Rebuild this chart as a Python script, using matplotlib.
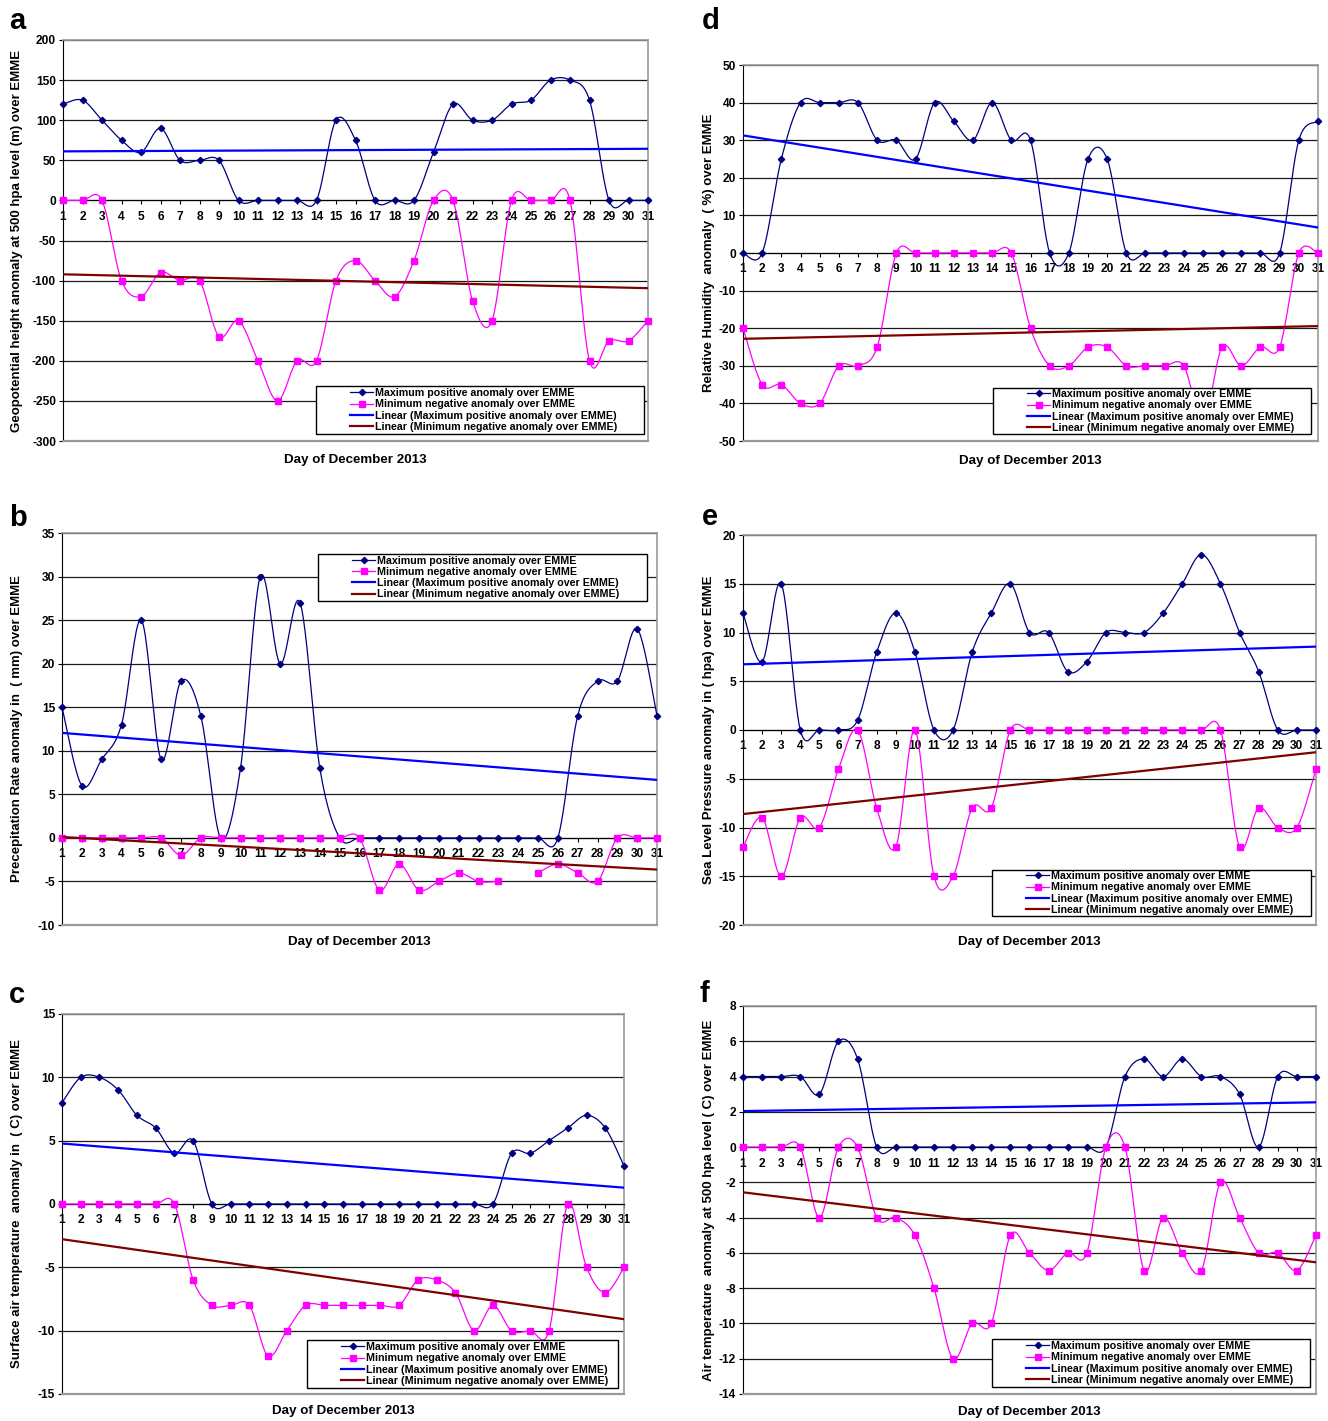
import numpy as np
import matplotlib.pyplot as plt
from matplotlib.lines import Line2D
from matplotlib.patches import Rectangle

plt.rcParams['font.family'] = ['Liberation Sans', 'DejaVu Sans']
plt.rcParams['font.weight'] = 'bold'
plt.rcParams['axes.unicode_minus'] = False

days = np.arange(1, 32)

# a - geopotential height 500 hpa (m)
geo_max = [120, 125, 100, 75, 60, 90, 50, 50, 50, 0, 0, 0, 0, 0, 100, 75,
           0, 0, 0, 60, 120, 100, 100, 120, 125, 150, 150, 125, 0, 0, 0]
geo_min = [0, 0, 0, -100, -120, -90, -100, -100, -170, -150, -200, -250, -200, -200,
           -100, -75, -100, -120, -75, 0, 0, -125, -150, 0, 0, 0, 0, -200, -175, -175, -150]

# d - relative humidity (%)
rh_max = [0, 0, 25, 40, 40, 40, 40, 30, 30, 25, 40, 35, 30, 40, 30, 30,
          0, 0, 25, 25, 0, 0, 0, 0, 0, 0, 0, 0, 0, 30, 35]
rh_min = [-20, -35, -35, -40, -40, -30, -30, -25, 0, 0, 0, 0, 0, 0, 0, -20,
          -30, -30, -25, -25, -30, -30, -30, -30, -45, -25, -30, -25, -25, 0, 0]

# b - precipitation rate (mm), day 24 missing in the minimum series
pr_max = [15, 6, 9, 13, 25, 9, 18, 14, 0, 8, 30, 20, 27, 8, 0, 0,
          0, 0, 0, 0, 0, 0, 0, 0, 0, 0, 14, 18, 18, 24, 14]
pr_min = [0, 0, 0, 0, 0, 0, -2, 0, 0, 0, 0, 0, 0, 0, 0, 0,
          -6, -3, -6, -5, -4, -5, -5, np.nan, -4, -3, -4, -5, 0, 0, 0]

# e - sea level pressure (hpa)
slp_max = [12, 7, 15, 0, 0, 0, 1, 8, 12, 8, 0, 0, 8, 12, 15, 10,
           10, 6, 7, 10, 10, 10, 12, 15, 18, 15, 10, 6, 0, 0, 0]
slp_min = [-12, -9, -15, -9, -10, -4, 0, -8, -12, 0, -15, -15, -8, -8, 0, 0,
           0, 0, 0, 0, 0, 0, 0, 0, 0, 0, -12, -8, -10, -10, -4]

# c - surface air temperature (C)
sat_max = [8, 10, 10, 9, 7, 6, 4, 5, 0, 0, 0, 0, 0, 0, 0, 0,
           0, 0, 0, 0, 0, 0, 0, 0, 4, 4, 5, 6, 7, 6, 3]
sat_min = [0, 0, 0, 0, 0, 0, 0, -6, -8, -8, -8, -12, -10, -8, -8, -8,
           -8, -8, -8, -6, -6, -7, -10, -8, -10, -10, -10, 0, -5, -7, -5]

# f - air temperature 500 hpa (C)
at_max = [4, 4, 4, 4, 3, 6, 5, 0, 0, 0, 0, 0, 0, 0, 0, 0,
          0, 0, 0, 0, 4, 5, 4, 5, 4, 4, 3, 0, 4, 4, 4]
at_min = [0, 0, 0, 0, -4, 0, 0, -4, -4, -5, -8, -12, -10, -10, -5, -6,
          -7, -6, -6, 0, 0, -7, -4, -6, -7, -2, -4, -6, -6, -7, -5]

legend_labels = ['Maximum positive anomaly over EMME',
                 'Minimum negative anomaly over EMME',
                 'Linear (Maximum positive anomaly over EMME)',
                 'Linear (Minimum negative anomaly over EMME)']

NAVY = '#000080'
MAGENTA = '#ff00ff'
BLUE = '#0000ff'
DARKRED = '#800000'
W, H = 1328, 1421


def smooth(x, y, n=24):
    # Excel-like smoothed line (Catmull-Rom Bezier), broken at missing values
    x = np.asarray(x, float)
    y = np.asarray(y, float)
    idx = np.where(~np.isnan(y))[0]
    runs = np.split(idx, np.where(np.diff(idx) > 1)[0] + 1)
    t = np.linspace(0, 1, n)[:, None]
    out = []
    for r in runs:
        p = np.column_stack([x[r], y[r]])
        m = len(p)
        if m < 2:
            continue
        for i in range(m - 1):
            p0 = p[max(i - 1, 0)]
            p3 = p[min(i + 2, m - 1)]
            c1 = p[i] + (p[i + 1] - p0) / 6
            c2 = p[i + 1] - (p3 - p[i]) / 6
            seg = ((1 - t) ** 3 * p[i] + 3 * (1 - t) ** 2 * t * c1
                   + 3 * (1 - t) * t ** 2 * c2 + t ** 3 * p[i + 1])
            out.append(seg)
        out.append(np.array([[np.nan, np.nan]]))
    pts = np.vstack(out)
    return pts[:, 0], pts[:, 1]


def trend(x, y):
    y = np.asarray(y, float)
    ok = ~np.isnan(y)
    k, b = np.polyfit(x[ok], y[ok], 1)
    xx = np.array([1, 31])
    return xx, k * xx + b


def panel(px, ymin, ymax, step, vmax, vmin, ylabel, letter, letter_px,
          leg, ylab_x, xlab_y):
    left, top, right, bottom = px
    ax = fig.add_axes([left / W, 1 - bottom / H, (right - left) / W, (bottom - top) / H])
    aw, ah = right - left, bottom - top

    ax.set_xlim(1, 31)
    ax.set_ylim(ymin, ymax)
    ax.set_yticks(np.arange(ymin, ymax + step / 2, step))
    ax.set_xticks(days)
    ax.grid(axis='y', color='#1a1a1a', lw=0.9)
    ax.set_axisbelow(True)

    for s in ['top', 'right']:
        ax.spines[s].set_color('#999999')
        ax.spines[s].set_linewidth(1.2)
    ax.spines['left'].set_color('black')
    ax.spines['bottom'].set_position(('data', 0))
    ax.spines['bottom'].set_color('black')
    ax.axhline(ymin, color='#999999', lw=1.6, zorder=4, clip_on=False)

    ax.tick_params(axis='x', direction='out', length=3, width=0.8, pad=4.5,
                   labelsize=8.6, colors='black')
    ax.tick_params(axis='y', direction='out', length=3, width=0.8, pad=2,
                   labelsize=8.6)

    xs, ys = smooth(days, vmax)
    ax.plot(xs, ys, color=NAVY, lw=0.9, zorder=3)
    ax.plot(days, vmax, 'D', color=NAVY, ms=3.2, zorder=3, clip_on=False)
    xs, ys = smooth(days, vmin)
    ax.plot(xs, ys, color=MAGENTA, lw=0.9, zorder=3)
    ax.plot(days, vmin, 's', color=MAGENTA, ms=4.2, zorder=3, clip_on=False)

    tx, ty = trend(days, vmax)
    ax.plot(tx, ty, color=BLUE, lw=1.6, zorder=3)
    tx, ty = trend(days, vmin)
    ax.plot(tx, ty, color=DARKRED, lw=1.6, zorder=3)

    ax.set_ylabel(ylabel, fontsize=9.5, fontweight='bold', va='center')
    ax.yaxis.set_label_coords((ylab_x - left) / aw, 0.5)
    ax.text(0.5, -(xlab_y - bottom) / ah, 'Day of December 2013', transform=ax.transAxes,
            ha='center', va='center', fontsize=9.6, fontweight='bold')

    # legend box
    lx0, ly0, lx1, ly1 = leg
    bx = (lx0 - left) / aw
    by = (bottom - ly1) / ah
    bw = (lx1 - lx0) / aw
    bh = (ly1 - ly0) / ah
    ax.add_patch(Rectangle((bx, by), bw, bh, transform=ax.transAxes, fc='white',
                           ec='black', lw=1.0, zorder=6, clip_on=False))
    handles = [Line2D([], [], color=NAVY, lw=0.9, marker='D', ms=3.2),
               Line2D([], [], color=MAGENTA, lw=0.9, marker='s', ms=4.2),
               Line2D([], [], color=BLUE, lw=1.6),
               Line2D([], [], color=DARKRED, lw=1.6)]
    lg = ax.legend(handles, legend_labels, loc='center left',
                   bbox_to_anchor=(bx + 29 / aw, by + bh / 2), frameon=False,
                   borderpad=0, labelspacing=0.12, handlelength=2.1, handletextpad=0.2,
                   prop={'size': 7.7, 'weight': 'bold'})
    lg.set_zorder(7)

    fig.text(letter_px[0] / W, 1 - letter_px[1] / H, letter, fontsize=21,
             fontweight='bold', ha='left', va='baseline')
    return ax


fig = plt.figure(figsize=(W / 100, H / 100), dpi=100)

panel((63, 40, 648, 441), -300, 200, 50, geo_max, geo_min,
      'Geopotential height anomaly at 500 hpa level (m) over EMME', 'a', (9, 29),
      (316, 386, 644, 434), 17, 460)
panel((743, 65, 1318, 441), -50, 50, 10, rh_max, rh_min,
      'Relative Humidity  anomaly  ( %) over EMME', 'd', (702, 29),
      (993, 388, 1311, 434), 709, 461)
panel((62, 533, 657, 925), -10, 35, 5, pr_max, pr_min,
      'Precepitation Rate anomaly in  ( mm) over EMME', 'b', (9, 526),
      (318, 554, 647, 601), 17, 942)
panel((743, 535, 1316, 925), -20, 20, 5, slp_max, slp_min,
      'Sea Level Pressure anomaly in ( hpa) over EMME', 'e', (702, 525),
      (992, 870, 1311, 916), 709, 942)
panel((62, 1014, 624, 1394), -15, 15, 5, sat_max, sat_min,
      'Surface air temperature  anomaly in  ( C) over EMME', 'c', (9, 1003),
      (307, 1340, 618, 1388), 17, 1411)
panel((743, 1006, 1316, 1394), -14, 8, 2, at_max, at_min,
      'Air temperature  anomaly at 500 hpa level ( C) over EMME', 'f', (700, 1002),
      (992, 1339, 1310, 1387), 709, 1412)

fig.savefig('out.png', dpi=100)
